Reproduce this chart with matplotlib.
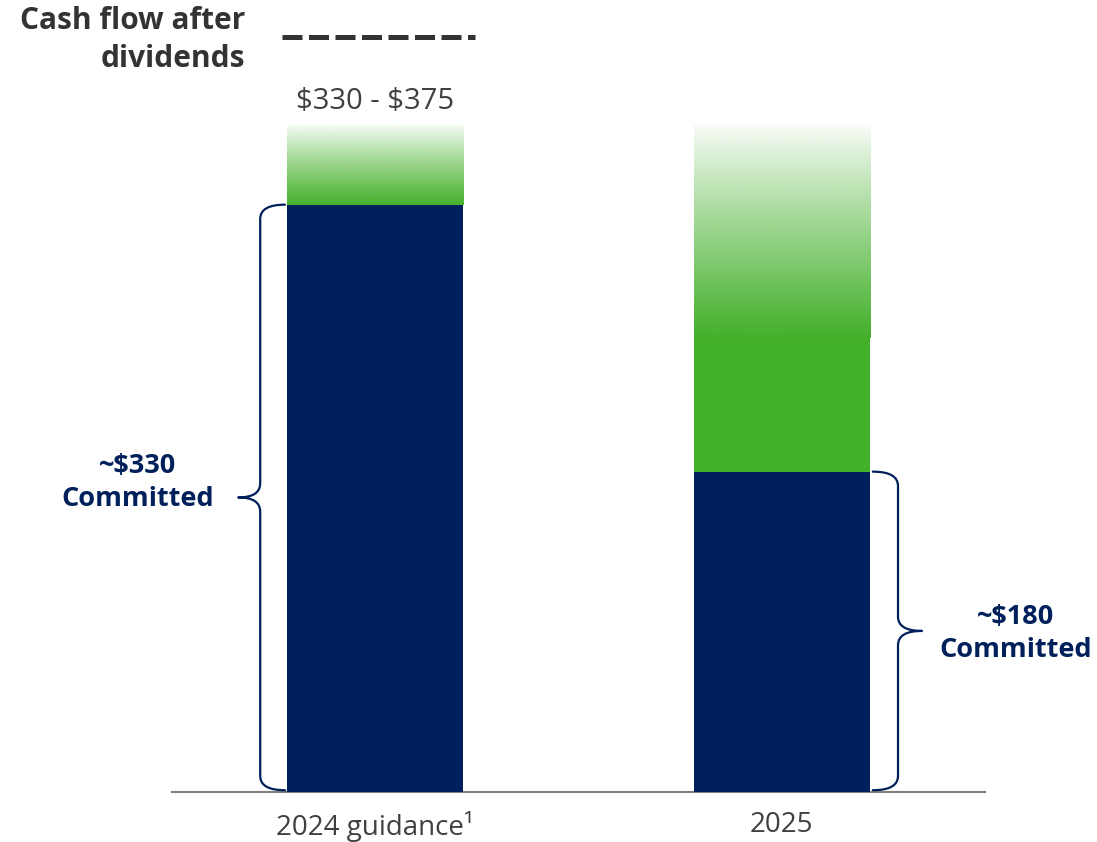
import numpy as np
import matplotlib.pyplot as plt
from matplotlib.path import Path
from matplotlib.patches import PathPatch
from matplotlib.lines import Line2D

plt.rcParams['font.family'] = ['Open Sans', 'DejaVu Sans']

# data
categories = ['2024 guidance\u00b9', '2025']
committed = [330, 180]
range_low = [330, 255]
range_high = [375, 375]
committed_labels = ['~\\$330\nCommitted', '~\\$180\nCommitted']
range_label = '\\$330 - \\$375'

NAVY = '#00205B'
GREEN = '#43B02A'
GREY_TXT = '#404040'

fig = plt.figure(figsize=(10.97, 8.42), dpi=100)
ax = fig.add_axes([172 / 1097, 1 - 792 / 842, 813 / 1097, 792 / 842])
ax.set_xlim(-0.5, 1.5)
ax.set_ylim(0, 445)

x = np.arange(len(categories))
w = 0.433

ax.bar(x, committed, width=w, color=NAVY, zorder=3)
# solid green part (2025) and gradient part up to the top of the range
green_rgb = np.array(plt.matplotlib.colors.to_rgb(GREEN))
for i in range(len(x)):
    if range_low[i] > committed[i]:
        ax.bar(x[i], range_low[i] - committed[i], bottom=committed[i], width=w, color=GREEN, zorder=3)
    n = 256
    alpha = np.linspace(0.02, 1.0, n) ** 0.9
    img = np.zeros((n, 1, 4))
    img[:, 0, :3] = green_rgb
    img[:, 0, 3] = alpha
    ax.imshow(img, extent=(x[i] - w / 2, x[i] + w / 2, range_low[i], range_high[i]),
              origin='upper', aspect='auto', interpolation='bilinear', zorder=2)


def brace(ax, xv, xt, xp, y0, y1, color=NAVY):
    # curly brace: vertical at xv, tips at xt, point at xp, from y0 to y1
    ym = (y0 + y1) / 2
    r = 8
    verts = [(xt, y1), (xv, y1), (xv, y1 - r), (xv, ym + r), (xv, ym), (xp, ym),
             (xv, ym), (xv, ym - r), (xv, y0 + r), (xv, y0), (xt, y0)]
    codes = [Path.MOVETO, Path.CURVE3, Path.CURVE3, Path.LINETO, Path.CURVE3, Path.CURVE3,
             Path.CURVE3, Path.CURVE3, Path.LINETO, Path.CURVE3, Path.CURVE3]
    ax.add_patch(PathPatch(Path(verts, codes), fill=False, edgecolor=color, lw=1.6,
                           capstyle='round', joinstyle='round', zorder=4, clip_on=False))


brace(ax, -0.283, -0.222, -0.337, 1, committed[0])
brace(ax, 1.286, 1.224, 1.345, 1, committed[1])

ax.text(-0.585, 174, committed_labels[0], ha='center', va='center',
        fontsize=19.5, fontweight='bold', color=NAVY, linespacing=1.35, clip_on=False)
ax.text(1.576, 89, committed_labels[1], ha='center', va='center',
        fontsize=19.5, fontweight='bold', color=NAVY, linespacing=1.35, clip_on=False)

ax.text(x[0], 388, range_label, ha='center', va='center', fontsize=21, color=GREY_TXT)

# legend-like dashed line for cash flow after dividends
ax.add_line(Line2D([-0.23, 0.245], [424, 424], color='#333333', lw=3.6,
                   dashes=(4, 1.3), clip_on=False))
fig.text(245 / 1097, 1 - 40 / 842, 'Cash flow after\ndividends', ha='right', va='center',
         fontsize=21.5, fontweight='bold', color='#333333', linespacing=1.35)

for s in ['top', 'right', 'left']:
    ax.spines[s].set_visible(False)
ax.spines['bottom'].set_color('#7F7F7F')
ax.spines['bottom'].set_linewidth(1.5)
ax.set_yticks([])
ax.set_xticks(x)
ax.set_xticklabels(categories, fontsize=20, color=GREY_TXT)
ax.tick_params(axis='x', length=0, pad=14)

fig.savefig('out.png', dpi=100)
